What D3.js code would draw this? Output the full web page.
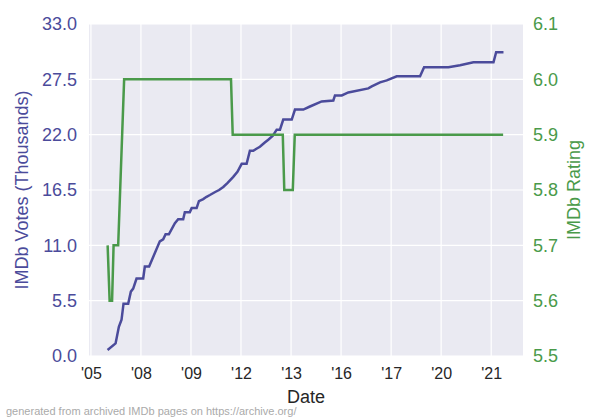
<!DOCTYPE html>
<html>
<head>
<meta charset="utf-8">
<script src="https://cdn.jsdelivr.net/npm/d3@7"></script>
<style>
  body { margin: 0; background: #fff; }
  svg { display: block; font-family: "Liberation Sans", Arial, sans-serif; }
</style>
</head>
<body>
<div id="chart"></div>
<script>
// votes (thousands) over time
const voteDates = ['2005-09-01', '2005-12-27', '2006-02-13', '2006-03-24', '2006-04-22', '2006-06-29',
    '2006-08-07', '2006-09-10', '2006-10-29', '2007-02-03', '2007-02-27', '2007-05-01', '2007-10-04',
    '2007-11-22', '2007-12-27', '2008-02-13', '2008-05-11', '2008-06-28', '2008-09-09', '2008-10-03',
    '2008-12-15', '2009-01-11', '2009-03-24', '2009-04-27', '2009-06-29', '2009-08-10', '2009-10-04',
    '2009-12-20', '2010-02-15', '2010-04-17', '2010-06-20', '2010-09-10', '2010-11-10', '2011-01-11',
    '2011-03-24', '2011-05-11', '2011-06-29', '2011-08-15', '2011-10-04', '2011-12-10', '2012-02-03',
    '2012-04-10', '2012-06-05', '2012-07-23', '2012-09-09', '2013-01-11', '2013-02-27', '2013-06-29',
    '2013-10-04', '2014-03-24', '2014-09-10', '2014-10-04', '2015-01-11', '2015-04-17', '2016-02-03',
    '2016-03-24', '2016-07-23', '2016-10-29', '2017-03-24', '2018-02-27', '2018-04-27', '2019-04-17',
    '2019-10-04', '2020-04-16', '2021-02-03', '2021-03-14', '2021-06-29'];
const votes = [0.6, 1.25, 2.9, 3.6, 5.2, 5.2,
    6.4, 6.7, 7.7, 7.7, 8.9, 8.9, 11.4,
    11.6, 12.1, 12.1, 13.2, 13.6, 13.6, 14.3,
    14.3, 14.7, 14.7, 15.4, 15.6, 15.8, 16.0,
    16.3, 16.5, 16.8, 17.2, 17.8, 18.3, 19.1,
    19.1, 20.4, 20.4, 20.6, 20.8, 21.2, 21.5,
    21.9, 22.5, 22.5, 23.5, 23.5, 24.5, 24.5,
    24.8, 25.3, 25.4, 25.9, 25.9, 26.2, 26.6,
    26.8, 27.2, 27.4, 27.8, 27.8, 28.7, 28.7,
    28.9, 29.2, 29.2, 30.2, 30.2];

// rating over time
const ratingDates = ['2005-09-02', '2005-10-01', '2005-11-06', '2005-11-28', '2006-02-03', '2006-05-01',
    '2010-08-08', '2010-09-02', '2012-09-02', '2012-09-24', '2013-01-26', '2013-02-24', '2021-06-24'];
const ratings = [5.7, 5.6, 5.6, 5.7, 5.7, 6.0, 6.0, 5.9, 5.9, 5.8, 5.8, 5.9, 5.9];

const xTickDates = ['2005-01-01', '2007-01-01', '2009-01-01', '2011-01-01', '2013-01-01',
    '2015-01-01', '2017-01-01', '2019-01-01', '2021-01-01'];
const xTickLabels = ["'05", "'08", "'09", "'12", "'13", "'16", "'17", "'20", "'21"];
const leftTicks = [0.0, 5.5, 11.0, 16.5, 22.0, 27.5, 33.0];
const rightTicks = [5.5, 5.6, 5.7, 5.8, 5.9, 6.0, 6.1];

const W = 600, H = 420;
const margin = { top: 24, right: 77, bottom: 64, left: 89 };
const iw = W - margin.left - margin.right;
const ih = H - margin.top - margin.bottom;

const blue = '#4b4b9b', green = '#4a9a4a';
const parse = d3.timeParse('%Y-%m-%d');

const x = d3.scaleTime()
    .domain([parse('2004-12-04'), parse('2022-04-10')])
    .range([0, iw]);
const yL = d3.scaleLinear().domain([0, 33]).range([ih, 0]);
const yR = d3.scaleLinear().domain([5.5, 6.1]).range([ih, 0]);

const svg = d3.select('#chart').append('svg')
    .attr('width', W)
    .attr('height', H);

const g = svg.append('g')
    .attr('transform', `translate(${margin.left},${margin.top})`);

g.append('rect')
    .attr('width', iw)
    .attr('height', ih)
    .attr('fill', '#eaeaf2');

// grid
g.selectAll('.vgrid')
    .data(xTickDates.map(parse))
    .enter().append('line')
    .attr('x1', d => x(d)).attr('x2', d => x(d))
    .attr('y1', 0).attr('y2', ih)
    .attr('stroke', '#fff').attr('stroke-width', 1.2);

g.selectAll('.hgrid')
    .data(leftTicks)
    .enter().append('line')
    .attr('x1', 0).attr('x2', iw)
    .attr('y1', d => yL(d)).attr('y2', d => yL(d))
    .attr('stroke', '#fff').attr('stroke-width', 1.2);

// axes
const xAxis = d3.axisBottom(x)
    .tickValues(xTickDates.map(parse))
    .tickFormat((d, i) => xTickLabels[i])
    .tickSize(0).tickPadding(12);
const gx = g.append('g').attr('transform', `translate(0,${ih})`).call(xAxis);
gx.select('.domain').remove();
gx.selectAll('text').attr('fill', '#262626').style('font-size', '16px');

const gl = g.append('g').call(d3.axisLeft(yL).tickValues(leftTicks).tickFormat(d3.format('.1f')).tickSize(0).tickPadding(12));
gl.select('.domain').remove();
gl.selectAll('text').attr('fill', blue).style('font-size', '18px');

const gr = g.append('g').attr('transform', `translate(${iw},0)`)
    .call(d3.axisRight(yR).tickValues(rightTicks).tickFormat(d3.format('.1f')).tickSize(0).tickPadding(10));
gr.select('.domain').remove();
gr.selectAll('text').attr('fill', green).style('font-size', '18px');

// lines
const voteLine = d3.line()
    .x((d, i) => x(parse(voteDates[i])))
    .y(d => yL(d));
g.append('path')
    .datum(votes)
    .attr('d', voteLine)
    .attr('fill', 'none')
    .attr('stroke', blue)
    .attr('stroke-width', 2.5);

const ratingLine = d3.line()
    .x((d, i) => x(parse(ratingDates[i])))
    .y(d => yR(d));
g.append('path')
    .datum(ratings)
    .attr('d', ratingLine)
    .attr('fill', 'none')
    .attr('stroke', green)
    .attr('stroke-width', 2.5);

// labels
svg.append('text')
    .attr('x', margin.left + iw / 2)
    .attr('y', 403)
    .attr('text-anchor', 'middle')
    .attr('fill', '#262626')
    .style('font-size', '18px')
    .text('Date');

svg.append('text')
    .attr('transform', `translate(28,${margin.top + ih / 2}) rotate(-90)`)
    .attr('text-anchor', 'middle')
    .attr('fill', blue)
    .style('font-size', '18px')
    .text('IMDb Votes (Thousands)');

svg.append('text')
    .attr('transform', `translate(580,${margin.top + ih / 2}) rotate(-90)`)
    .attr('text-anchor', 'middle')
    .attr('fill', green)
    .style('font-size', '18px')
    .text('IMDb Rating');

svg.append('text')
    .attr('x', 6)
    .attr('y', 415)
    .attr('fill', '#aaaaaa')
    .style('font-size', '11px')
    .text('generated from archived IMDb pages on https://archive.org/');
</script>
</body>
</html>
